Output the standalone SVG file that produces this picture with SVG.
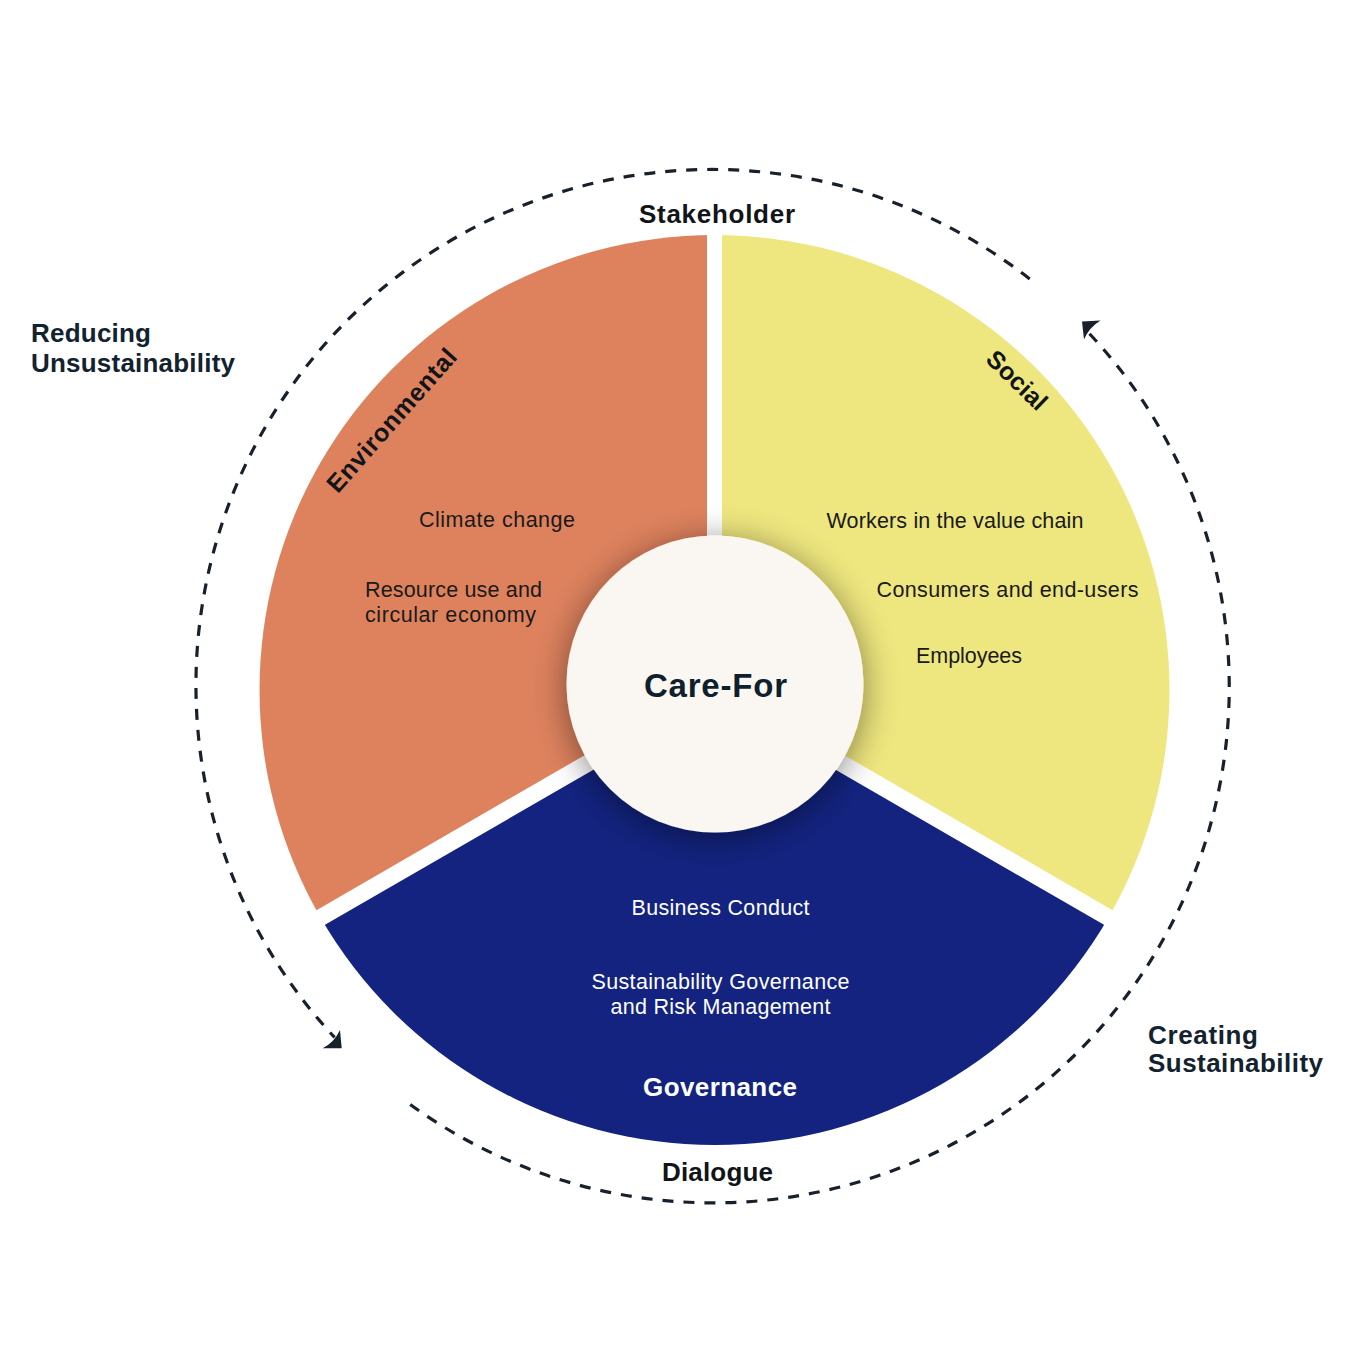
<svg xmlns="http://www.w3.org/2000/svg" width="1360" height="1351" viewBox="0 0 1360 1351">
  <style>
    .t { font-family: "Liberation Sans", Arial, sans-serif; }
    .b { font-weight: bold; }
    .lbl { font-size: 26px; fill: #111418; }
    .side { font-size: 26px; fill: #13222f; }
    .item { font-size: 21.5px; fill: #1a1a1a; }
    .itemw { font-size: 21.5px; fill: #ffffff; }
    .dash { fill: none; stroke: #17202b; stroke-width: 3.2; stroke-dasharray: 11 10; }
    .head { fill: #17202b; }
    .gap { stroke: #ffffff; stroke-linecap: butt; }
  </style>
  <defs>
    <filter id="shadow" x="-50%" y="-50%" width="200%" height="200%">
      <feDropShadow dx="0" dy="5" stdDeviation="17" flood-color="#000000" flood-opacity="0.45"/>
    </filter>
  </defs>
  <rect width="1360" height="1351" fill="#ffffff"/>

  <g id="node-environmental">
    <path d="M714.5,690 L714.5,235 A455,455 0 0 0 320.5,917.5 Z" fill="#DE825E"/>
  </g>
  <g id="node-social">
    <path d="M714.5,690 L714.5,235 A455,455 0 0 1 1108.5,917.5 Z" fill="#EEE67E"/>
  </g>
  <g id="node-governance">
    <path d="M714.5,690 L1108.5,917.5 A455,455 0 0 1 320.5,917.5 Z" fill="#13237F"/>
  </g>

  <g id="dividers">
    <line class="gap" x1="714.5" y1="690" x2="714.5" y2="225" stroke-width="15"/>
    <line class="gap" x1="714.5" y1="690" x2="306" y2="926" stroke-width="17"/>
    <line class="gap" x1="714.5" y1="690" x2="1123" y2="926" stroke-width="17"/>
  </g>

  <g id="node-environmental-text">
    <text class="t b" font-size="25" fill="#111418" text-anchor="middle" textLength="182" lengthAdjust="spacing" transform="translate(398,426) rotate(-48.5)">Environmental</text>
    <text class="t item" x="419" y="527" textLength="156" lengthAdjust="spacing">Climate change</text>
    <text class="t item" x="365" y="596.5" textLength="177" lengthAdjust="spacing">Resource use and</text>
    <text class="t item" x="365" y="622" textLength="171" lengthAdjust="spacing">circular economy</text>
  </g>

  <g id="node-social-text">
    <text class="t b" font-size="25" fill="#111418" text-anchor="middle" textLength="74" lengthAdjust="spacing" transform="translate(1011,386.5) rotate(44)">Social</text>
    <text class="t item" x="826.5" y="527.5" textLength="257" lengthAdjust="spacing">Workers in the value chain</text>
    <text class="t item" x="876.5" y="596.5" textLength="262" lengthAdjust="spacing">Consumers and end-users</text>
    <text class="t item" x="916" y="662.5" textLength="106" lengthAdjust="spacing">Employees</text>
  </g>

  <g id="node-governance-text">
    <text class="t itemw" x="720.5" y="915" text-anchor="middle" textLength="178" lengthAdjust="spacing">Business Conduct</text>
    <text class="t itemw" x="720.5" y="988.5" text-anchor="middle" textLength="258" lengthAdjust="spacing">Sustainability Governance</text>
    <text class="t itemw" x="720.5" y="1014" text-anchor="middle" textLength="220" lengthAdjust="spacing">and Risk Management</text>
    <text class="t b" font-size="26" fill="#ffffff" x="720" y="1096" text-anchor="middle" textLength="154" lengthAdjust="spacing">Governance</text>
  </g>

  <g id="node-care-for">
    <circle cx="715" cy="684" r="148.5" fill="#FAF7F2" filter="url(#shadow)"/>
    <text class="t b" font-size="33" fill="#0f1f2d" x="715.5" y="697" text-anchor="middle" textLength="143" lengthAdjust="spacing">Care-For</text>
  </g>

  <g id="connectors">
    <path class="dash" d="M1029.7,278.9 A516,516 0 0 0 334.6,1037.4"/>
    <path class="head" d="M341.7,1048.3 L340,1030 Q334.5,1042 322.7,1048.3 Z"/>
    <path class="dash" d="M410.2,1104.5 A516,516 0 0 0 1088.7,332.9"/>
    <path class="head" d="M1082,321.5 L1100.5,320.5 Q1089,327.5 1084,339.5 Z"/>
  </g>

  <g id="labels">
    <text class="t b lbl" x="717" y="223" text-anchor="middle" textLength="156" lengthAdjust="spacing">Stakeholder</text>
    <text class="t b lbl" font-size="24" x="717.5" y="1180.5" text-anchor="middle" textLength="111" lengthAdjust="spacing">Dialogue</text>
    <text class="t b side" x="31" y="342" textLength="120" lengthAdjust="spacing">Reducing</text>
    <text class="t b side" x="31" y="371.5" textLength="204" lengthAdjust="spacing">Unsustainability</text>
    <text class="t b side" x="1148" y="1044" textLength="110" lengthAdjust="spacing">Creating</text>
    <text class="t b side" x="1148" y="1072" textLength="175" lengthAdjust="spacing">Sustainability</text>
  </g>
</svg>
